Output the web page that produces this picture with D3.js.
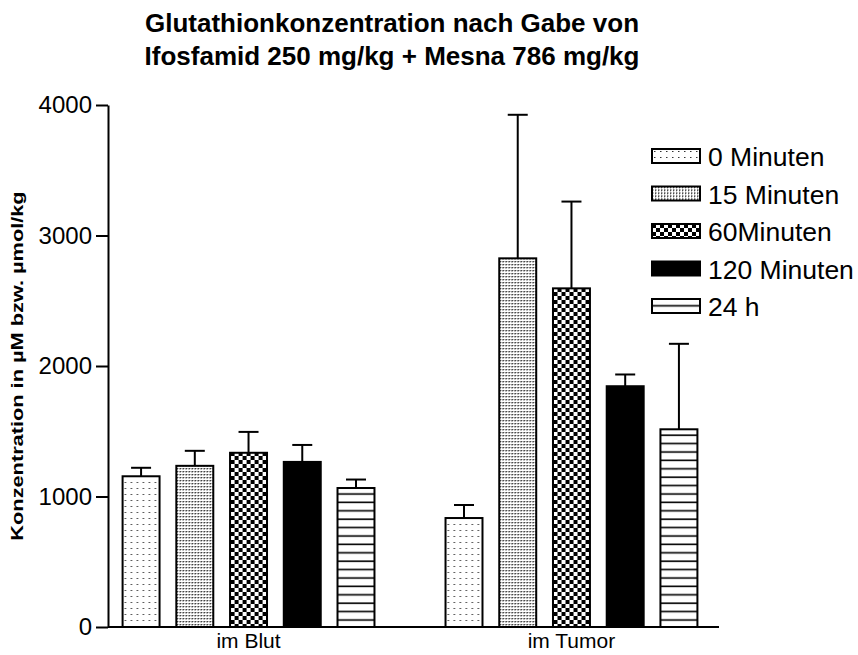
<!DOCTYPE html>
<html>
<head>
<meta charset="utf-8">
<script src="https://cdn.jsdelivr.net/npm/d3@7"></script>
<style>
  html, body { margin: 0; padding: 0; background: #fff; }
  svg { display: block; font-family: "Liberation Sans", Arial, Helvetica, sans-serif; }
</style>
</head>
<body>
<svg id="chart" width="858" height="655"></svg>
<script>
// Data: mean glutathione concentration and upper error (SEM) per time point
const categories = ["im Blut", "im Tumor"];
const series = ["0 Minuten", "15 Minuten", "60Minuten", "120 Minuten", "24 h"];
const bloodMeans  = [1155, 1235, 1335, 1265, 1065];
const bloodErrors = [65, 115, 160, 130, 65];
const tumorMeans  = [835, 2825, 2595, 1845, 1515];
const tumorErrors = [100, 1100, 665, 90, 655];
const yTicks = [0, 1000, 2000, 3000, 4000];

const titleLines = [
  "Glutathionkonzentration nach Gabe von",
  "Ifosfamid 250 mg/kg + Mesna 786 mg/kg"
];
const yTitle = "Konzentration in µM bzw. µmol/kg";

const groups = [
  { cat: categories[0], means: bloodMeans, errors: bloodErrors },
  { cat: categories[1], means: tumorMeans, errors: tumorErrors }
];

const svg = d3.select("#chart");
const plot = { left: 108, right: 719, top: 105, bottom: 627 };

// Fill patterns for the five time points
const defs = svg.append("defs");
const patIds = ["p0", "p15", "p60", "p120", "p24"];

// sparse dots
let p = defs.append("pattern").attr("id", "p0").attr("patternUnits", "userSpaceOnUse")
  .attr("width", 6).attr("height", 6);
p.append("rect").attr("width", 6).attr("height", 6).attr("fill", "#fff");
p.append("rect").attr("x", 2).attr("y", 2).attr("width", 1.5).attr("height", 1).attr("fill", "#333");

// dense dot grid
p = defs.append("pattern").attr("id", "p15").attr("patternUnits", "userSpaceOnUse")
  .attr("width", 3).attr("height", 3);
p.append("rect").attr("width", 3).attr("height", 3).attr("fill", "#fff");
p.append("rect").attr("x", 0).attr("y", 0).attr("width", 1).attr("height", 1).attr("fill", "#111");
p.append("rect").attr("x", 1).attr("y", 0).attr("width", 1).attr("height", 1).attr("fill", "#888");
p.append("rect").attr("x", 0).attr("y", 1).attr("width", 1).attr("height", 1).attr("fill", "#888");

// checkerboard
p = defs.append("pattern").attr("id", "p60").attr("patternUnits", "userSpaceOnUse")
  .attr("width", 8).attr("height", 8);
p.append("rect").attr("width", 8).attr("height", 8).attr("fill", "#fff");
p.append("rect").attr("x", 0).attr("y", 0).attr("width", 4).attr("height", 4).attr("fill", "#000");
p.append("rect").attr("x", 4).attr("y", 4).attr("width", 4).attr("height", 4).attr("fill", "#000");

// solid black
p = defs.append("pattern").attr("id", "p120").attr("patternUnits", "userSpaceOnUse")
  .attr("width", 4).attr("height", 4);
p.append("rect").attr("width", 4).attr("height", 4).attr("fill", "#000");

// horizontal lines
p = defs.append("pattern").attr("id", "p24").attr("patternUnits", "userSpaceOnUse")
  .attr("width", 8).attr("height", 8.4).attr("y", 0);
p.append("rect").attr("width", 8).attr("height", 8.4).attr("fill", "#fff");
p.append("rect").attr("x", 0).attr("y", 6).attr("width", 8).attr("height", 1.6).attr("fill", "#000");

// Scales
const y = d3.scaleLinear().domain([0, 4000]).range([plot.bottom, plot.top]);
const x0 = d3.scaleBand().domain(categories).range([115, 705])
  .paddingInner(0.22).paddingOuter(0.0235);
const x1 = d3.scaleBand().domain(series).range([0, x0.bandwidth()])
  .paddingInner(0.312).paddingOuter(0);

// Title
svg.append("g").selectAll("text").data(titleLines).join("text")
  .attr("x", 392).attr("y", (d, i) => 32 + i * 33)
  .attr("text-anchor", "middle")
  .attr("font-size", 26).attr("font-weight", "bold")
  .text(d => d);

// Bars
const g = svg.append("g");
groups.forEach(grp => {
  const gx = x0(grp.cat);
  const gg = g.append("g").attr("transform", `translate(${gx},0)`);
  const rows = series.map((s, i) => ({ s, i, v: grp.means[i], e: grp.errors[i] }));

  // error bars (upper only)
  gg.selectAll("line.err").data(rows).join("line").attr("class", "err")
    .attr("x1", d => x1(d.s) + x1.bandwidth() / 2)
    .attr("x2", d => x1(d.s) + x1.bandwidth() / 2)
    .attr("y1", d => y(d.v)).attr("y2", d => y(d.v + d.e))
    .attr("stroke", "#000").attr("stroke-width", 2);
  gg.selectAll("line.cap").data(rows).join("line").attr("class", "cap")
    .attr("x1", d => x1(d.s) + x1.bandwidth() / 2 - 10)
    .attr("x2", d => x1(d.s) + x1.bandwidth() / 2 + 10)
    .attr("y1", d => y(d.v + d.e)).attr("y2", d => y(d.v + d.e))
    .attr("stroke", "#000").attr("stroke-width", 2);

  gg.selectAll("rect").data(rows).join("rect")
    .attr("x", d => x1(d.s))
    .attr("y", d => y(d.v))
    .attr("width", x1.bandwidth())
    .attr("height", d => y(0) - y(d.v))
    .attr("fill", d => `url(#${patIds[d.i]})`)
    .attr("stroke", "#000").attr("stroke-width", 2);
});

// Y axis
const yAxis = svg.append("g").attr("transform", `translate(${plot.left},0)`)
  .call(d3.axisLeft(y).tickValues(yTicks).tickFormat(d3.format("d"))
    .tickSize(12).tickSizeOuter(0).tickPadding(4));
yAxis.select(".domain").attr("stroke-width", 2);
yAxis.selectAll(".tick line").attr("stroke-width", 2);
yAxis.selectAll(".tick text").attr("font-size", 24).attr("fill", "#000")
  .attr("font-family", "Liberation Sans, Arial, sans-serif");

// X axis baseline and category labels
svg.append("line")
  .attr("x1", plot.left).attr("x2", plot.right)
  .attr("y1", y(0)).attr("y2", y(0))
  .attr("stroke", "#000").attr("stroke-width", 2);
svg.append("g").selectAll("text").data(categories).join("text")
  .attr("x", d => x0(d) + x0.bandwidth() / 2)
  .attr("y", 648)
  .attr("text-anchor", "middle")
  .attr("font-size", 21)
  .text(d => d);

// Y title
svg.append("text")
  .attr("transform", `translate(23,${(plot.top + plot.bottom) / 2}) rotate(-90) scale(1.28,1)`)
  .attr("text-anchor", "middle")
  .attr("font-size", 17).attr("font-weight", "bold")
  .text(yTitle);

// Legend
const legend = svg.append("g").attr("transform", "translate(652,149)");
const li = legend.selectAll("g").data(series).join("g")
  .attr("transform", (d, i) => `translate(0,${i * 37.5})`);
li.append("rect").attr("width", 48).attr("height", 14)
  .attr("fill", (d, i) => `url(#${patIds[i]})`)
  .attr("stroke", "#000").attr("stroke-width", 2);
li.append("text").attr("x", 56).attr("y", 17)
  .attr("font-size", 26.5)
  .text(d => d);
</script>
</body>
</html>
